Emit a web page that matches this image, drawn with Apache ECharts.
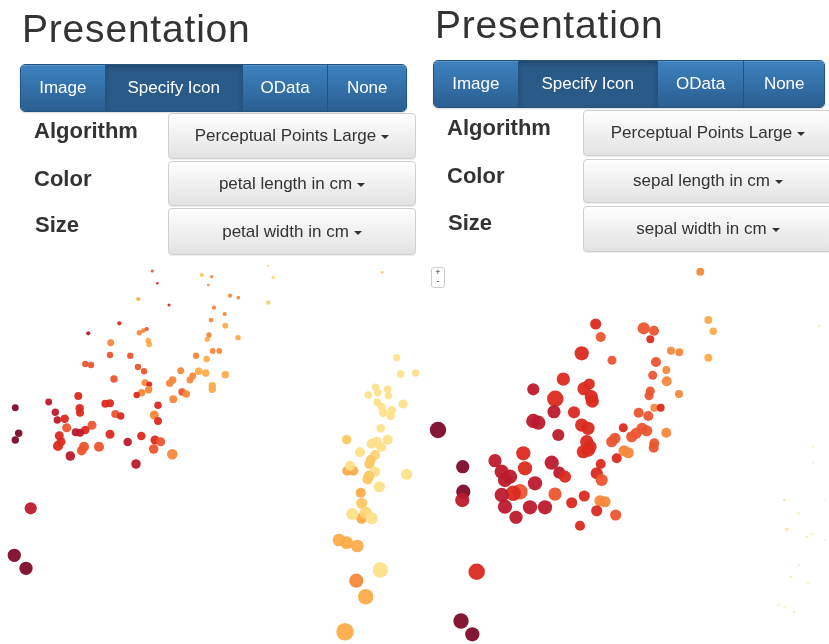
<!DOCTYPE html>
<html>
<head>
<meta charset="utf-8">
<script src="https://cdn.jsdelivr.net/npm/echarts@6/dist/echarts.min.js"></script>
<style>
html,body{margin:0;padding:0;width:829px;height:644px;overflow:hidden;background:#fff;font-family:"Liberation Sans",Arial,Helvetica,sans-serif;}
#chart{position:absolute;left:0;top:0;width:829px;height:644px;z-index:0;}
.ui{position:absolute;z-index:2;}
.title{font-size:39px;color:#333;letter-spacing:0.8px;line-height:1;white-space:nowrap;}
.btngroup{height:48px;display:flex;border-radius:5px;overflow:hidden;border:1px solid #245580;box-sizing:border-box;box-shadow:0 1px 2px rgba(0,0,0,.15);}
.btngroup div{color:#fff;font-size:17px;display:flex;align-items:center;justify-content:center;background:linear-gradient(#3d82c0,#2a5e90);border-right:1px solid #24527e;box-sizing:border-box;box-shadow:inset 0 1px 0 rgba(255,255,255,.15);}
.btngroup div:last-child{border-right:none;}
.btngroup div.active{background:#2a5a88;box-shadow:inset 0 3px 5px rgba(0,0,0,.18);}
.label{font-weight:bold;font-size:22px;color:#333;line-height:1;white-space:nowrap;}
.dd{border:1px solid #cfcfcf;border-radius:4px;box-sizing:border-box;background:linear-gradient(#ffffff,#e2e2e2);display:flex;align-items:center;justify-content:center;font-size:17px;color:#333;box-shadow:0 1px 1px rgba(0,0,0,.08);white-space:nowrap;}
.caret{display:inline-block;width:0;height:0;margin-left:5px;margin-top:2px;border-top:4px solid #333;border-left:4px solid transparent;border-right:4px solid transparent;}
.zoomctl{left:431px;top:267px;width:14px;height:21px;border:1px solid #ccc;border-radius:3px;box-sizing:border-box;font-size:9px;line-height:9px;color:#333;text-align:center;background:#fff;}
</style>
</head>
<body>
<div id="chart"></div>

<!-- left panel UI -->
<div class="ui title" style="left:22px;top:9px;">Presentation</div>
<div class="ui btngroup" style="left:20px;top:64px;width:387px;">
  <div style="width:85px;">Image</div>
  <div class="active" style="width:138px;">Specify Icon</div>
  <div style="width:86px;">OData</div>
  <div style="width:78px;">None</div>
</div>
<div class="ui label" style="left:34px;top:120px;">Algorithm</div>
<div class="ui label" style="left:34px;top:168px;">Color</div>
<div class="ui label" style="left:35px;top:214px;">Size</div>
<div class="ui dd" style="left:168px;top:113px;width:248px;height:46px;">Perceptual Points Large<span class="caret"></span></div>
<div class="ui dd" style="left:168px;top:161px;width:248px;height:45px;">petal length in cm<span class="caret"></span></div>
<div class="ui dd" style="left:168px;top:208px;width:248px;height:47px;">petal width in cm<span class="caret"></span></div>

<!-- right panel UI -->
<div class="ui title" style="left:435px;top:5px;">Presentation</div>
<div class="ui btngroup" style="left:433px;top:60px;width:392px;">
  <div style="width:85px;">Image</div>
  <div class="active" style="width:140px;">Specify Icon</div>
  <div style="width:87px;">OData</div>
  <div style="width:80px;">None</div>
</div>
<div class="ui label" style="left:447px;top:117px;">Algorithm</div>
<div class="ui label" style="left:447px;top:165px;">Color</div>
<div class="ui label" style="left:448px;top:212px;">Size</div>
<div class="ui dd" style="left:583px;top:110px;width:250px;height:46px;">Perceptual Points Large<span class="caret"></span></div>
<div class="ui dd" style="left:583px;top:159px;width:250px;height:44px;">sepal length in cm<span class="caret"></span></div>
<div class="ui dd" style="left:583px;top:206px;width:250px;height:46px;">sepal width in cm<span class="caret"></span></div>
<div class="ui zoomctl"><div>+</div><div>-</div></div>

<script>
// ---- colour scale (low -> high colour value) ----
const palette = ['#7d0b28','#bc1a2c','#dc2a20','#ec5530','#f7883b','#fcab4a','#fdc862','#fde08a','#f9efbe'];

// ---- left plot: colour = petal length, size = petal width ----
const leftX = [152.3,157.3,201.7,211.7,208.3,268.3,273.3,268.3,382.3,138.3,169,230,238.3,214,224.7,211,225.3,119.3,88.3,139.3,143.3,146.7,209,207.3,238,110.7,148.3,149.3,212.7,219.3,196,206.7,110,130.3,85.3,91,138,144,180.7,198.7,205.7,225.3,192.7,190,172.7,169.7,114,145,149.3,212.3,212.3,148.7,141.7,136.7,182,186.3,173.3,78.3,48.7,15.3,105.3,110,79.7,80,55.3,158,115.3,120.7,154.3,158,57.3,64.7,66.7,92,85.3,80,75.7,18.7,15.3,59.3,61,58,110,141.3,155,160.7,127.7,84,81.7,99,153.7,172.3,70.3,136,30.7,14.3,26,
  396.7,400.7,415.7,375.7,387.7,377.7,368.3,388.3,403,377.3,381.7,391.7,383.3,390.7,380.7,346.7,387.7,376.7,371.7,381,360,375,370.7,369.3,347.3,353.3,350,375,369,367.7,406.7,379.3,360.7,361.7,361.7,352.3,365.7,371.7,339,346.7,357.3,380.3,356.3,365.7,345];
const leftY = [11,23.3,15,16.7,25,6,17.3,42.7,12.3,39,45,35.7,37.7,47.7,54,60,65.7,63.3,73.3,72.7,70.7,69,75,79.3,77.7,82.7,80.7,84.3,91,91,95.7,99,95,95.7,104,105,107,111.3,110.7,111.3,113,114.7,116,120,120,123.3,119,122.7,124.3,125.7,129.3,129.7,132.7,135,132,134,139.3,136,142,147.7,143.7,143.3,148.3,152.7,152.3,145.3,154,156,155,161,160,158.7,167.7,165.3,170,172.7,172.3,173.3,180,175.7,181.7,186,174.3,176,180,181.7,182,186.7,190.7,186.7,189,194.3,196,204,248.3,295.3,308.3,
  97.7,114,113,127.3,129.3,132.7,135,135.7,144,142.3,147,150.3,152.7,156,168.3,179.7,179.7,181.7,183.7,187,192.3,195,200,204,210.7,210.7,205.7,211.7,215.7,219.3,214.3,226.7,232.7,243.3,258.3,254,252.7,258.3,280,282.7,286,310,320.7,336.7,371.7];
const leftColor = [4,3,7,5,5,8,8,7,7,6,3,5,5,5,5,5,6,3,2,5,5,4,5,6,6,5,6,6,5,5,5,6,4,4,4,4,4,4,5,6,6,6,5,5,5,5,4,5,3,6,6,5,5,3,4,5,5,3,2,1,3,3,3,3,2,3,4,3,5,3,2,3,4,4,3,2,2,1,1,3,3,3,3,3,3,4,2,4,4,4,4,5,2,2,2,1,1,
  8,8,8,8,8,8,8,8,8,8,8,8,8,8,8,7,8,8,8,8,8,7.5,7,7,6,6,8,8,7,7,8,8,6,7,6,8,7.5,8,6,6,6,8,5,6,6];
const leftSize = [0.63,0.5,0.88,0.63,0.5,0.5,0.75,0.88,0.5,0.88,0.63,0.88,0.75,0.88,0.88,1.0,1.25,0.88,0.88,1.13,1.0,0.88,1.13,1.13,1.13,1.5,1.25,1.25,1.25,1.25,1.38,1.38,1.38,1.38,1.38,1.38,1.38,1.38,1.5,1.63,1.63,1.63,1.5,1.5,1.63,1.63,1.63,1.5,1.25,1.63,1.63,1.63,1.63,1.38,1.63,1.63,1.75,1.75,1.5,1.5,1.75,1.75,1.88,1.75,1.63,1.63,1.75,1.63,2.0,1.75,1.63,1.88,2.0,2.0,1.88,1.75,1.75,1.63,1.63,2.0,2.0,2.25,2.0,1.88,2.0,2.0,1.88,2.25,2.13,2.25,2.13,2.38,2.13,2.13,2.75,3.0,3.0,
  1.5,1.63,1.63,1.63,1.63,1.63,1.63,1.63,2.0,1.75,1.75,1.88,1.88,1.88,1.88,2.13,2.25,2.25,2.25,2.25,2.25,2.25,2.25,2.25,2.25,2.25,2.25,2.38,2.38,2.38,2.5,2.5,2.25,2.5,2.5,2.75,2.75,2.75,2.88,2.88,2.88,3.5,3.25,3.5,4.0];

// ---- right plot: colour = sepal length, size = sepal width ----
const rightX = [285.3,293.3,298.3,293.3,180.7,185.7,228.7,239,235.3,166.7,197,256,264.3,241,251.3,237.7,251.7,148.3,118.3,174.3,169,176.3,177.3,140.3,139,159,235.3,234,264,118.3,123.3,23,166.7,173,208.3,143.3,239.3,245.7,223.7,233.3,227,231.7,221.3,216.7,251.3,171.7,175,168.3,173.3,200,196.7,239.3,238.7,209,213.3,201.7,108.3,110,80,47.7,136.7,185.7,86.7,95,90,144.3,150,181.7,186.7,120,105,98.3,48.3,47.3,86.7,90,140,169.3,156.7,185,190,115,130,181.7,200.7,101,165,61.7,46,57.3,
  404.3,397.7,369.3,383.3,409.3,371.7,396.7,391.7,384.3,375.7,393.3,363.3,369.3,379,398.3,410.3];
const rightY = [11.7,60,71.3,97.7,64,77,68.3,70.7,79.3,93.3,100.3,90.7,92.3,102,110,115.3,121.3,119,129.3,124,128.7,136.7,141,138.7,151.7,152.3,131,135.7,134,161,162.7,170,165,168.3,167.7,175,147.7,147.7,152.7,156,168.3,170.7,173.3,176.7,172.7,181.7,186.7,191.7,190,178.3,181.7,183.3,187.7,190.7,192.7,198.3,193.3,208.3,200.7,206.7,202.7,204,211.7,216.7,220,212.7,216.7,213.3,220,223.3,231.7,233.3,231.7,240,235,246.7,234,236,242.7,240.7,241.7,247.3,247.3,250.7,255,257.3,265.7,311.7,361,374.3,
  66,186.7,240,253.3,240,269.3,274.3,276.7,305,316.7,323.3,345,347.3,351.7,203.3,280];
const rightColor = [5,6,6,6,3,4,4,4,3,3,4,5,5,4,5,4,5,3,2,3,3,3,3,3,2,3,4,4,5,2,2,1,3,3,3,2,5,3,4,4,4,4,4,4,5,3,3,3,3,4,4,4,4,5,5,3,3,3,2,1,2,3,2,2,2,2,3,3,4,2,4,3,1,2,2,2,4,3,3,5,5,2,2,3,4,2,3,3,1,1,
  9,9,8.5,9,9,8.5,9,9,9,9,9,9,9,9,9,9];
const rightSize = [1.75,1.75,1.63,1.75,2.5,2.25,2.75,2.25,1.75,3.25,2.0,1.75,1.75,2.25,1.75,2.0,2.25,3.0,2.75,2.5,3.0,3.0,3.0,3.75,3.0,2.75,2.0,2.0,1.75,3.25,3.25,3.75,3.0,3.0,2.0,2.75,1.75,1.75,2.25,2.25,2.5,2.5,2.5,2.5,2.25,3.0,3.0,3.0,3.0,2.5,2.5,2.25,2.25,2.5,2.5,2.25,3.25,3.25,3.0,3.0,3.25,2.25,3.25,3.25,3.25,2.75,2.75,2.75,2.75,3.25,3.5,3.5,3.25,3.25,3.25,3.25,3.0,2.5,2.5,2.5,2.5,3.25,3.25,2.5,2.5,3.0,2.25,3.75,3.5,3.25,
  0.5,0.38,0.63,0.5,0.38,0.75,0.5,0.5,0.5,0.5,0.5,0.5,0.5,0.5,0.38,0.38];

const leftData = leftX.map((x, i) => [x, leftY[i], leftColor[i], leftSize[i]]);
const rightData = rightX.map((x, i) => [x, rightY[i], rightColor[i], rightSize[i]]);

const chart = echarts.init(document.getElementById('chart'));
chart.setOption({
  animation: false,
  grid: [
    {left: 0, top: 260, width: 415, height: 384},
    {left: 415, top: 260, width: 414, height: 384}
  ],
  xAxis: [
    {type: 'value', gridIndex: 0, min: 0, max: 415, show: false},
    {type: 'value', gridIndex: 1, min: 0, max: 414, show: false}
  ],
  yAxis: [
    {type: 'value', gridIndex: 0, min: 0, max: 384, inverse: true, show: false},
    {type: 'value', gridIndex: 1, min: 0, max: 384, inverse: true, show: false}
  ],
  visualMap: [
    {type: 'continuous', show: false, dimension: 2, seriesIndex: [0, 1], min: 1, max: 9, inRange: {color: palette}},
    {type: 'continuous', show: false, dimension: 3, seriesIndex: [0, 1], min: 0, max: 4, inRange: {symbolSize: [0.5, 17.5]}}
  ],
  series: [
    {type: 'scatter', xAxisIndex: 0, yAxisIndex: 0, clip: false, data: leftData, itemStyle: {opacity: 0.95}},
    {type: 'scatter', xAxisIndex: 1, yAxisIndex: 1, clip: false, data: rightData, itemStyle: {opacity: 0.95}}
  ]
});
</script>
</body>
</html>
